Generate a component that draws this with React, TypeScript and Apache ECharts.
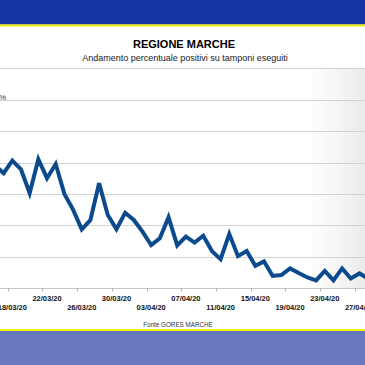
import React, { useEffect, useRef } from "react";
import * as echarts from "echarts";

// Dates (daily) shown on the category axis
const categories: string[] = [
  "16/03/20", "17/03/20", "18/03/20", "19/03/20", "20/03/20", "21/03/20", "22/03/20", "23/03/20",
  "24/03/20", "25/03/20", "26/03/20", "27/03/20", "28/03/20", "29/03/20", "30/03/20", "31/03/20",
  "01/04/20", "02/04/20", "03/04/20", "04/04/20", "05/04/20", "06/04/20", "07/04/20", "08/04/20",
  "09/04/20", "10/04/20", "11/04/20", "12/04/20", "13/04/20", "14/04/20", "15/04/20", "16/04/20",
  "17/04/20", "18/04/20", "19/04/20", "20/04/20", "21/04/20", "22/04/20", "23/04/20", "24/04/20",
  "25/04/20", "26/04/20", "27/04/20", "28/04/20",
];

// Percentage of positive tests over tests performed
const positivePct: number[] = [
  39.2, 36.7, 40.7, 37.9, 30.3, 41.1, 35.1, 39.6,
  30.1, 25.1, 18.8, 21.8, 33.5, 23.4, 18.9, 24.1,
  21.8, 18.1, 13.8, 16.0, 22.7, 13.7, 16.5, 14.6,
  16.8, 11.9, 9.3, 17.3, 10.3, 11.9, 7.2, 8.6,
  4.0, 4.3, 6.4, 4.9, 3.5, 2.6, 5.6, 2.6,
  6.4, 3.2, 4.8, 3.2,
];

const yMin = 0;
const yMax = 70;
const yStep = 10;

const titleText = "REGIONE MARCHE";
const subtitleText = "Andamento percentuale positivi su tamponi eseguiti";
const sourceText = "Fonte GORES MARCHE";
const unitText = "%";

const FIRST_LABEL = 2; // 18/03/20
const LABEL_EVERY = 4;

const OFFSET_X = 40;
const CHART_W = 425;
const CHART_H = 365;
const FONT = "'Liberation Sans', Arial, sans-serif";

export default function App() {
  const ref = useRef<HTMLDivElement>(null);

  useEffect(() => {
    document.body.style.overflow = "hidden";
    if (!ref.current) return;
    const chart = echarts.init(ref.current, undefined, { renderer: "svg" });

    const showIdx = (i: number) => i >= FIRST_LABEL && (i - FIRST_LABEL) % LABEL_EVERY === 0;

    chart.setOption({
      animation: false,
      backgroundColor: "#ffffff",
      grid: {
        left: OFFSET_X - 9.4,
        right: CHART_W - (OFFSET_X + 372.5),
        top: 68.5,
        bottom: CHART_H - 288.5,
        show: true,
        borderWidth: 0,
        backgroundColor: {
          type: "linear",
          x: 0,
          y: 0,
          x2: 1,
          y2: 0,
          colorStops: [
            { offset: 0, color: "#ffffff" },
            { offset: 0.83, color: "#ffffff" },
            { offset: 1, color: "#e9e9e9" },
          ],
        },
      },
      xAxis: {
        type: "category",
        data: categories,
        boundaryGap: true,
        axisLine: { show: true, lineStyle: { color: "#c8c8c8", width: 1 } },
        axisTick: {
          show: true,
          alignWithLabel: false,
          interval: (i: number) => showIdx(i),
          length: 3,
          lineStyle: { color: "#b0b0b0" },
        },
        axisLabel: {
          interval: (i: number) => showIdx(i),
          formatter: (v: string, i: number) => {
            const k = (i - FIRST_LABEL) / LABEL_EVERY;
            return k % 2 === 0 ? "\n" + v : v;
          },
          fontFamily: FONT,
          fontSize: 7.5,
          fontWeight: "bold",
          color: "#111111",
          lineHeight: 9,
          margin: 5,
        },
        splitLine: { show: false },
      },
      yAxis: {
        type: "value",
        min: yMin,
        max: yMax,
        interval: yStep,
        axisLine: { show: false },
        axisTick: { show: false },
        axisLabel: { show: false },
        splitLine: { show: true, lineStyle: { color: "#d2d2d2", width: 1.2 } },
      },
      series: [
        {
          type: "line",
          data: positivePct,
          symbol: "none",
          lineStyle: { color: "#0c4a8e", width: 4, join: "miter" },
          z: 3,
        },
      ],
      graphic: [
        { type: "rect", shape: { x: 0, y: 0, width: CHART_W, height: 24.5 }, style: { fill: "#1533a1" }, z: 10 },
        { type: "rect", shape: { x: 0, y: 24.5, width: CHART_W, height: 2 }, style: { fill: "#f2f200" }, z: 10 },
        { type: "rect", shape: { x: 0, y: 329, width: CHART_W, height: 2 }, style: { fill: "#f2f200" }, z: 10 },
        { type: "rect", shape: { x: 0, y: 331, width: CHART_W, height: 34 }, style: { fill: "#6778c1" }, z: 10 },
        {
          type: "text",
          x: OFFSET_X + 184,
          y: 44,
          style: {
            text: titleText,
            fontFamily: FONT,
            fontSize: 11,
            fontWeight: "bold",
            fill: "#000000",
            textAlign: "center",
            textVerticalAlign: "middle",
          },
          z: 10,
        },
        {
          type: "text",
          x: OFFSET_X + 185,
          y: 57.5,
          style: {
            text: subtitleText,
            fontFamily: FONT,
            fontSize: 9,
            fill: "#1a1a1a",
            textAlign: "center",
            textVerticalAlign: "middle",
          },
          z: 10,
        },
        {
          type: "text",
          x: OFFSET_X + 178,
          y: 324,
          style: {
            text: sourceText,
            fontFamily: FONT,
            fontSize: 6.3,
            fill: "#333333",
            textAlign: "center",
            textVerticalAlign: "middle",
          },
          z: 10,
        },
        {
          type: "text",
          x: OFFSET_X - 1,
          y: 97,
          style: {
            text: unitText,
            fontFamily: FONT,
            fontSize: 8,
            fill: "#333333",
            textAlign: "left",
            textVerticalAlign: "middle",
          },
          z: 10,
        },
      ],
    });

    return () => chart.dispose();
  }, []);

  return (
    <div
      ref={ref}
      style={{ position: "fixed", left: -OFFSET_X, top: 0, width: CHART_W, height: CHART_H }}
    />
  );
}
